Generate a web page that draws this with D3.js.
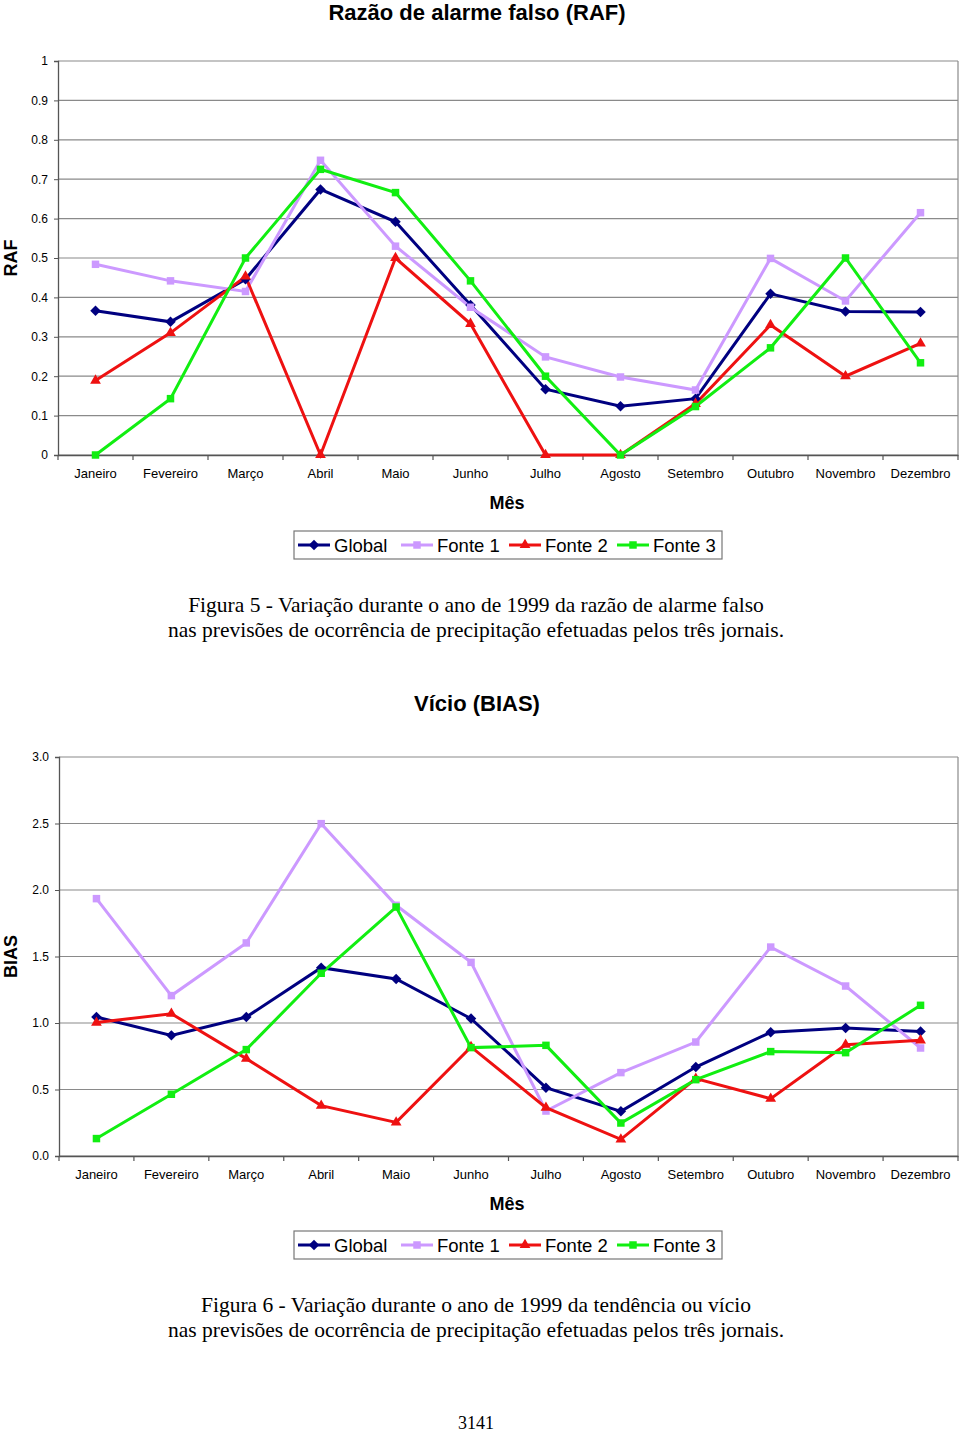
<!DOCTYPE html>
<html><head><meta charset="utf-8">
<script src="https://cdn.jsdelivr.net/npm/d3@7"></script>
<style>body{margin:0;background:#fff}svg{display:block}</style>
</head><body>
<svg id="c" width="960" height="1433"></svg>
<script>
const months = ["Janeiro","Fevereiro","Março","Abril","Maio","Junho","Julho","Agosto","Setembro","Outubro","Novembro","Dezembro"];
const seriesNames = ["Global","Fonte 1","Fonte 2","Fonte 3"];
const seriesColors = ["#000080","#CC99FF","#EE1111","#11EE11"];
const seriesMarkers = ["diamond","square","triangle","square"];

// Figura 5 - RAF
const rafGlobal = [0.366,0.338,0.446,0.674,0.592,0.381,0.167,0.124,0.143,0.409,0.364,0.363];
const rafFonte1 = [0.484,0.442,0.415,0.748,0.530,0.375,0.249,0.198,0.165,0.499,0.391,0.615];
const rafFonte2 = [0.189,0.310,0.453,0.000,0.500,0.333,0.000,0.000,0.130,0.330,0.200,0.283];
const rafFonte3 = [0.000,0.143,0.500,0.725,0.666,0.442,0.200,0.000,0.123,0.272,0.500,0.234];
const rafTicks = [0,0.1,0.2,0.3,0.4,0.5,0.6,0.7,0.8,0.9,1];

// Figura 6 - BIAS
const biasGlobal = [1.045,0.907,1.045,1.416,1.331,1.033,0.514,0.336,0.669,0.930,0.962,0.937];
const biasFonte1 = [1.935,1.206,1.602,2.499,1.885,1.456,0.338,0.627,0.857,1.571,1.278,0.812];
const biasFonte2 = [1.003,1.070,0.732,0.379,0.253,0.820,0.364,0.125,0.582,0.431,0.837,0.870];
const biasFonte3 = [0.131,0.464,0.800,1.374,1.872,0.815,0.832,0.248,0.574,0.785,0.777,1.133];
const biasTicks = [0,0.5,1.0,1.5,2.0,2.5,3.0];

const svg = d3.select("#c");
const SANS = "'Liberation Sans', Arial, sans-serif";
const SERIF = "'Liberation Serif', 'Times New Roman', serif";

function symbolFor(m){
  if(m==="diamond") return d3.symbol().type(d3.symbolDiamond2 || d3.symbolDiamond).size(70);
  if(m==="triangle") return d3.symbol().type(d3.symbolTriangle).size(50);
  return d3.symbol().type(d3.symbolSquare).size(56);
}

function drawChart(o){
  const g = svg.append("g");
  const x = d3.scaleBand().domain(months).range([o.left,o.right]);
  const y = d3.scaleLinear().domain(o.domain).range([o.bottom,o.top]);

  // title
  g.append("text").attr("x",477).attr("y",o.titleY).attr("text-anchor","middle")
    .attr("font-family",SANS).attr("font-weight","bold").attr("font-size",22).text(o.title);

  // gridlines
  g.append("g").selectAll("line").data(o.ticks).join("line")
    .attr("x1",o.left).attr("x2",o.right)
    .attr("y1",d=>y(d)).attr("y2",d=>y(d))
    .attr("stroke","#8a8a8a").attr("stroke-width",1.2);
  // right border
  g.append("line").attr("x1",o.right).attr("x2",o.right).attr("y1",o.top).attr("y2",o.bottom)
    .attr("stroke","#8a8a8a").attr("stroke-width",1.2);

  // y axis
  const ya = d3.axisLeft(y).tickValues(o.ticks).tickFormat(o.fmt).tickSize(4).tickPadding(6);
  const yg = g.append("g").attr("transform",`translate(${o.left},0)`).call(ya);
  yg.select(".domain").attr("stroke","#555").attr("stroke-width",1.3);
  yg.selectAll(".tick line").attr("stroke","#555");
  yg.selectAll("text").attr("font-family",SANS).attr("font-size",12).attr("fill","#000");

  // x axis
  const xa = d3.axisBottom(x).tickSize(0).tickPadding(14);
  const xg = g.append("g").attr("transform",`translate(0,${o.bottom})`).call(xa);
  xg.select(".domain").attr("stroke","#555").attr("stroke-width",1.3);
  xg.selectAll("text").attr("font-family",SANS).attr("font-size",13).attr("fill","#000");
  // category separators
  g.append("g").selectAll("line").data(d3.range(months.length+1)).join("line")
    .attr("x1",i=>o.left+i*x.step()).attr("x2",i=>o.left+i*x.step())
    .attr("y1",o.bottom).attr("y2",o.bottom+5).attr("stroke","#555").attr("stroke-width",1.2);

  // axis titles
  g.append("text").attr("transform",`translate(${o.yLabelX},${(o.top+o.bottom)/2}) rotate(-90)`)
    .attr("text-anchor","middle").attr("font-family",SANS).attr("font-weight","bold")
    .attr("font-size",18).text(o.yLabel);
  g.append("text").attr("x",507).attr("y",o.bottom+54).attr("text-anchor","middle")
    .attr("font-family",SANS).attr("font-weight","bold").attr("font-size",18).text("Mês");

  // series
  const line = d3.line().x((d,i)=>x(months[i])+x.bandwidth()/2).y(d=>y(d));
  o.series.forEach((s,k)=>{
    g.append("path").datum(s).attr("d",line).attr("fill","none")
      .attr("stroke",seriesColors[k]).attr("stroke-width",3).attr("stroke-linejoin","miter");
  });
  o.series.forEach((s,k)=>{
    g.append("g").selectAll("path").data(s).join("path")
      .attr("transform",(d,i)=>`translate(${x(months[i])+x.bandwidth()/2},${y(d)})`)
      .attr("d",symbolFor(seriesMarkers[k])()).attr("fill",seriesColors[k]);
  });

  // legend
  const lg = g.append("g");
  lg.append("rect").attr("x",294).attr("y",o.legendY).attr("width",428).attr("height",28)
    .attr("fill","#fff").attr("stroke","#777").attr("stroke-width",1.2);
  const itemX = [298,401,509,617];
  seriesNames.forEach((n,k)=>{
    const cy = o.legendY+14;
    lg.append("line").attr("x1",itemX[k]).attr("x2",itemX[k]+32).attr("y1",cy).attr("y2",cy)
      .attr("stroke",seriesColors[k]).attr("stroke-width",3);
    lg.append("path").attr("transform",`translate(${itemX[k]+16},${cy})`)
      .attr("d",symbolFor(seriesMarkers[k])()).attr("fill",seriesColors[k]);
    lg.append("text").attr("x",itemX[k]+36).attr("y",cy+6.5).attr("font-family",SANS)
      .attr("font-size",18.5).text(n);
  });

  // caption
  o.caption.forEach((t,i)=>{
    g.append("text").attr("x",476).attr("y",o.captionY+i*25).attr("text-anchor","middle")
      .attr("font-family",SERIF).attr("font-size",21.5).text(t);
  });
}

drawChart({
  title:"Razão de alarme falso (RAF)", titleY:20,
  left:58, right:958, top:61, bottom:455, domain:[0,1], ticks:rafTicks,
  fmt:d=>String(d), yLabel:"RAF", yLabelX:17,
  series:[rafGlobal,rafFonte1,rafFonte2,rafFonte3],
  legendY:531,
  caption:["Figura 5 - Variação durante o ano de 1999 da razão de alarme falso",
           "nas previsões de ocorrência de precipitação efetuadas pelos três jornais."],
  captionY:612
});
drawChart({
  title:"Vício (BIAS)", titleY:711,
  left:59, right:958, top:757, bottom:1156, domain:[0,3], ticks:biasTicks,
  fmt:d3.format(".1f"), yLabel:"BIAS", yLabelX:17,
  series:[biasGlobal,biasFonte1,biasFonte2,biasFonte3],
  legendY:1231,
  caption:["Figura 6 - Variação durante o ano de 1999 da tendência ou vício",
           "nas previsões de ocorrência de precipitação efetuadas pelos três jornais."],
  captionY:1312
});

svg.append("text").attr("x",476).attr("y",1429).attr("text-anchor","middle")
  .attr("font-family",SERIF).attr("font-size",18).text("3141");
</script>
</body></html>
